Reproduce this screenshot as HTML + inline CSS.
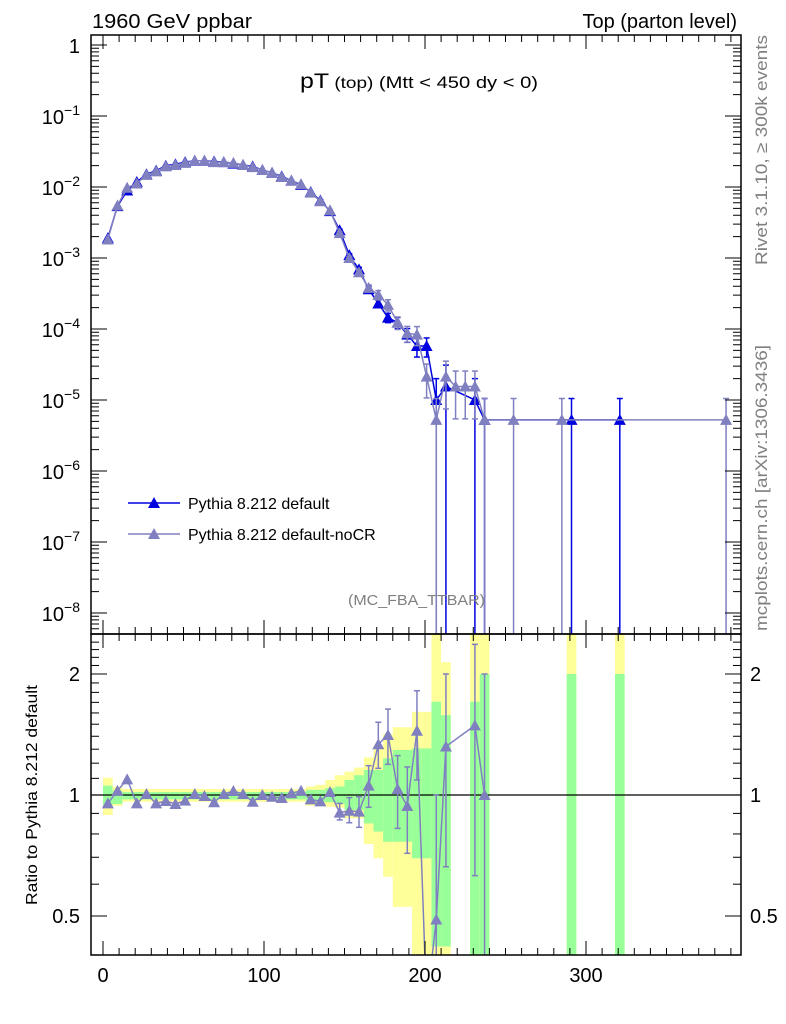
<!DOCTYPE html>
<html><head><meta charset="utf-8">
<style>
html,body{margin:0;padding:0;background:#fff;width:786px;height:1024px;overflow:hidden;}
svg{display:block;font-family:"Liberation Sans",sans-serif;}
</style></head>
<body>
<svg id="chart" width="786" height="1024" viewBox="0 0 786 1024">
<defs>
<clipPath id="clipMain"><rect x="91" y="35" width="650" height="599"/></clipPath>
<clipPath id="clipRatio"><rect x="91" y="634" width="650" height="321"/></clipPath>
</defs>
<g id="bands" clip-path="url(#clipRatio)"></g>
<g id="marks"></g>
<rect x="91" y="35" width="650" height="599" fill="none" stroke="#000" stroke-width="1.5"/>
<rect x="91" y="634" width="650" height="321" fill="none" stroke="#000" stroke-width="1.5"/>
<g id="ticks" stroke="#000" stroke-width="1"></g>
<g id="labels" font-size="20" fill="#000"></g>
<text x="92" y="28" font-size="20" textLength="160" lengthAdjust="spacingAndGlyphs">1960 GeV ppbar</text>
<text x="737" y="28" font-size="20" text-anchor="end">Top (parton level)</text>
<text x="300" y="88" textLength="238" lengthAdjust="spacingAndGlyphs"><tspan font-size="21">pT</tspan><tspan font-size="16"> (top)</tspan><tspan font-size="17"> (Mtt &lt; 450 dy &lt; 0)</tspan></text>
<text transform="translate(767,265) rotate(-90)" font-size="17" fill="#808080" textLength="230" lengthAdjust="spacingAndGlyphs">Rivet 3.1.10, ≥ 300k events</text>
<text transform="translate(767,631) rotate(-90)" font-size="17" fill="#808080" textLength="286" lengthAdjust="spacingAndGlyphs">mcplots.cern.ch [arXiv:1306.3436]</text>
<text x="348" y="605" font-size="15" fill="#808080" textLength="137" lengthAdjust="spacingAndGlyphs">(MC_FBA_TTBAR)</text>
<text transform="translate(37,905) rotate(-90)" font-size="16" textLength="220" lengthAdjust="spacingAndGlyphs">Ratio to Pythia 8.212 default</text>
<g>
 <g>
  <line x1="128" y1="503" x2="180" y2="503" stroke="#0000e0" stroke-width="1.5"/>
  <polygon points="154,497 160,508 148,508" fill="#0000e0"/>
  <text x="188" y="509" font-size="16">Pythia 8.212 default</text>
 </g>
 <g>
  <line x1="128" y1="534" x2="180" y2="534" stroke="#8080c0" stroke-width="1.5"/>
  <polygon points="154,528 160,539 148,539" fill="#8080c0"/>
  <text x="188" y="540" font-size="16">Pythia 8.212 default-noCR</text>
 </g>
</g>
</svg>
<script>
// ---- data ----
const binCenters = [3,9,15,21,27,33,39,45,51,57,63,69,75,81,87,93,99,105,111,117,123,129,135,141,147,153,159,165,171,177,183,189,195,201,207,213,219,225,231,237];
const logDefault = [-2.72,-2.27,-2.05,-1.93,-1.82,-1.77,-1.70,-1.68,-1.65,-1.63,-1.63,-1.64,-1.65,-1.67,-1.69,-1.71,-1.76,-1.80,-1.85,-1.91,-1.97,-2.07,-2.19,-2.34,-2.61,-2.96,-3.16,-3.44,-3.64,-3.84,-3.91,-4.08,-4.24,-4.24,-5.0,-4.81,null,null,-5.0,-5.28];
const logNoCR = [-2.74,-2.26,-2.01,-1.95,-1.83,-1.78,-1.71,-1.69,-1.66,-1.63,-1.63,-1.65,-1.65,-1.66,-1.69,-1.72,-1.76,-1.80,-1.86,-1.91,-1.96,-2.08,-2.20,-2.33,-2.65,-3.00,-3.20,-3.42,-3.52,-3.66,-3.91,-4.06,-4.08,-4.67,-5.28,-4.67,-4.81,-4.81,-4.81,-5.28];
const relErrDefault = [0.01,0.01,0.01,0.01,0.01,0.01,0.01,0.01,0.01,0.01,0.01,0.01,0.01,0.01,0.01,0.01,0.01,0.01,0.01,0.02,0.02,0.02,0.03,0.03,0.04,0.05,0.07,0.1,0.12,0.15,0.18,0.22,0.3,0.3,1.0,1.0,0,0,1.0,1.0];
const relErrNoCR = [0.01,0.01,0.01,0.01,0.01,0.01,0.01,0.01,0.01,0.01,0.01,0.01,0.01,0.01,0.01,0.01,0.01,0.01,0.01,0.02,0.02,0.02,0.03,0.03,0.04,0.05,0.07,0.1,0.15,0.18,0.2,0.25,0.3,0.5,1.0,0.65,0.65,0.65,0.65,1.0];
const tailDefaultX = [291,321];
const tailDefaultLog = [-5.28,-5.28];
const tailNoCRX = [255,285,387];
const tailNoCRLog = [-5.28,-5.28,-5.28];
const ratioNoCR = [0.953,1.025,1.094,0.953,1.006,0.953,0.966,0.950,0.968,1.006,0.994,0.959,1.006,1.023,1.006,0.962,1.0,0.99,0.983,1.01,1.025,0.975,0.964,1.017,0.904,0.914,0.909,1.055,1.337,1.41,1.035,0.939,1.445,0.3,0.49,1.32,null,null,1.49,1.0];
const ratioErrHi = [null,null,null,null,null,null,null,null,null,null,null,null,null,null,null,null,null,null,null,null,null,null,null,null,0.953,0.985,0.99,1.183,1.517,1.636,1.253,1.174,1.817,null,1.0,2.0,null,null,2.37,2.0];
const ratioErrLo = [null,null,null,null,null,null,null,null,null,null,null,null,null,null,null,null,null,null,null,null,null,null,null,null,0.867,0.853,0.831,0.932,1.165,1.192,0.826,0.716,1.09,null,0.1,0.663,null,null,0.63,0.1];
const yellowHi = [1.104,1.05,1.035,1.035,1.035,1.035,1.035,1.035,1.035,1.035,1.035,1.035,1.035,1.035,1.035,1.035,1.035,1.035,1.035,1.035,1.035,1.05,1.06,1.09,1.12,1.143,1.17,1.24,1.324,1.418,1.474,1.474,1.61,1.61,3,2.14,null,null,3,3,3,3];
const yellowLo = [0.892,0.94,0.962,0.962,0.962,0.962,0.962,0.962,0.962,0.962,0.962,0.962,0.962,0.962,0.962,0.962,0.962,0.962,0.962,0.962,0.962,0.94,0.94,0.935,0.93,0.875,0.875,0.755,0.696,0.626,0.527,0.527,0.3,0.3,0.3,0.4,null,null,0.3,0.3,0.3,0.3];
const greenHi = [1.055,1.025,1.017,1.017,1.017,1.017,1.017,1.017,1.017,1.017,1.017,1.017,1.017,1.017,1.017,1.017,1.017,1.017,1.017,1.017,1.017,1.03,1.03,1.04,1.05,1.09,1.12,1.154,1.154,1.234,1.294,1.294,1.306,1.306,1.706,1.58,null,null,1.706,2.0,2.0,2.0];
const greenLo = [0.935,0.95,0.975,0.975,0.975,0.975,0.975,0.975,0.975,0.975,0.975,0.975,0.975,0.975,0.975,0.975,0.975,0.975,0.975,0.975,0.975,0.96,0.96,0.96,0.95,0.918,0.918,0.85,0.811,0.765,0.765,0.765,0.696,0.696,0.42,0.42,null,null,0.3,0.3,0.3,0.3];
const bandCenters = binCenters.concat([291,321]);
const xTicks = [0,100,200,300];
const mainYTicks = [0,-1,-2,-3,-4,-5,-6,-7,-8];
const ratioTicks = [2,1,0.5];
const ratioTickLabels = ["2","1","0.5"];

// ---- axes ----
const NS = "http://www.w3.org/2000/svg";
const xs = v => 103 + 1.61 * v;
const ym = lg => 45 - 71 * lg;
const yr = r => 795 - 402 * Math.log10(r);
const binW = 6;
function mk(tag, attrs, parent) {
  const e = document.createElementNS(NS, tag);
  for (const k in attrs) e.setAttribute(k, attrs[k]);
  parent.appendChild(e);
  return e;
}
const bands = document.getElementById('bands');
const marks = document.getElementById('marks');
const ticks = document.getElementById('ticks');
const labels = document.getElementById('labels');

bandCenters.forEach((c, i) => {
  if (yellowHi[i] == null) return;
  const x0 = xs(c - binW / 2), x1 = xs(c + binW / 2);
  const yb = mk('rect', {x: x0, y: yr(yellowHi[i]), width: x1 - x0, height: yr(yellowLo[i]) - yr(yellowHi[i]), fill: '#ffff99'}, bands);
  
  
  const gb = mk('rect', {x: x0, y: yr(greenHi[i]), width: x1 - x0, height: yr(greenLo[i]) - yr(greenHi[i]), fill: '#99ff99'}, bands);
  
  
});
const one = mk('line', {x1: 91, x2: 741, y1: yr(1), y2: yr(1), stroke: '#000', 'stroke-width': 1.2}, marks);



function tri(x, y, col, parent) {
  return mk('polygon', {points: `${x},${y - 6} ${x + 6},${y + 5} ${x - 6},${y + 5}`, fill: col}, parent);
}
function errbar(x, y1, y2, col, parent) {
  mk('line', {x1: x, x2: x, y1: y1, y2: y2, stroke: col, 'stroke-width': 1.5}, parent);
  mk('line', {x1: x - 3, x2: x + 3, y1: y1, y2: y1, stroke: col, 'stroke-width': 1.5}, parent);
  mk('line', {x1: x - 3, x2: x + 3, y1: y2, y2: y2, stroke: col, 'stroke-width': 1.5}, parent);
}
function drawMain(xArr, logArr, errArr, col, name) {
  const g = mk('g', {'clip-path': 'url(#clipMain)'}, marks);
  
  
  const pts = [];
  xArr.forEach((c, i) => {
    if (logArr[i] == null) return;
    const v = Math.pow(10, logArr[i]);
    const px = xs(c), py = ym(logArr[i]);
    pts.push([px, py]);
    const e = errArr[i] * v;
    if (errArr[i] > 0.02) {
      const lo = v - e > 0 ? ym(Math.log10(v - e)) : 700;
      errbar(px, ym(Math.log10(v + e)), lo, col, g);
    }
  });
  mk('polyline', {points: pts.map(p => p.join(',')).join(' '), fill: 'none', stroke: col, 'stroke-width': 1.5}, g);
  pts.forEach(p => tri(p[0], p[1], col, g));
}
const defX = binCenters.concat(tailDefaultX);
const defL = logDefault.concat(tailDefaultLog);
const defE = relErrDefault.concat(tailDefaultX.map(() => 1.0));
const ncX = binCenters.concat(tailNoCRX);
const ncL = logNoCR.concat(tailNoCRLog);
const ncE = relErrNoCR.concat(tailNoCRX.map(() => 1.0));
drawMain(defX, defL, defE, '#0000e0', 'series-default');
drawMain(ncX, ncL, ncE, '#8080c0', 'series-default-nocr');

const rg = mk('g', {'clip-path': 'url(#clipRatio)'}, marks);


const rpts = [];
binCenters.forEach((c, i) => {
  if (ratioNoCR[i] == null) return;
  const px = xs(c), py = yr(ratioNoCR[i]);
  rpts.push([px, py]);
  if (ratioErrHi[i] != null) errbar(px, yr(ratioErrHi[i]), yr(ratioErrLo[i]), '#8080c0', rg);
});
mk('polyline', {points: rpts.map(p => p.join(',')).join(' '), fill: 'none', stroke: '#8080c0', 'stroke-width': 1.5}, rg);
rpts.forEach(p => tri(p[0], p[1], '#8080c0', rg));

[[35, 1], [634, 1], [634, -1], [955, -1]].forEach(([y0, dir]) => {
  for (let v = 0; v <= 390; v += 10) {
    const major = v % 100 === 0;
    const len = major ? 14 : 7;
    mk('line', {x1: xs(v), x2: xs(v), y1: y0, y2: y0 + dir * len}, ticks);
  }
});
xTicks.forEach(v => {
  const t = mk('text', {x: xs(v), y: 982, 'text-anchor': 'middle'}, labels);
  
  
  t.textContent = String(v);
});
mainYTicks.forEach(d => {
  [[91, 1], [741, -1]].forEach(([x0, dir]) => {
    mk('line', {x1: x0, x2: x0 + dir * 16, y1: ym(d), y2: ym(d)}, ticks);
    for (let m = 2; m <= 9; m++) {
      const y = ym(d - 1 + Math.log10(m));
      if (y < 35 || y > 634) continue;
      mk('line', {x1: x0, x2: x0 + dir * 8, y1: y, y2: y}, ticks);
    }
  });
  const t = mk('text', {x: 80, y: ym(d) + 8, 'text-anchor': 'end'}, labels);
  
  
  if (d === 0) t.textContent = '1';
  else {
    t.textContent = '10';
    const s = mk('tspan', {dy: -9, 'font-size': 14}, t);
    s.textContent = '\u2212' + (-d);
  }
});
for (let r = 0.4; r <= 2.5; r += 0.1) {
  const rr = Math.round(r * 10) / 10;
  const major = rr === 0.5 || rr === 1 || rr === 2;
  [[91, 1], [741, -1]].forEach(([x0, dir]) => {
    mk('line', {x1: x0, x2: x0 + dir * (major ? 16 : 8), y1: yr(rr), y2: yr(rr)}, ticks);
  });
}
ratioTicks.forEach((r, i) => {
  const t = mk('text', {x: 80, y: yr(r) + 7, 'text-anchor': 'end'}, labels);
  
  
  t.textContent = ratioTickLabels[i];
  const t2 = mk('text', {x: 750, y: yr(r) + 7}, labels);
  
  
  t2.textContent = ratioTickLabels[i];
});
</script>
</body></html>
